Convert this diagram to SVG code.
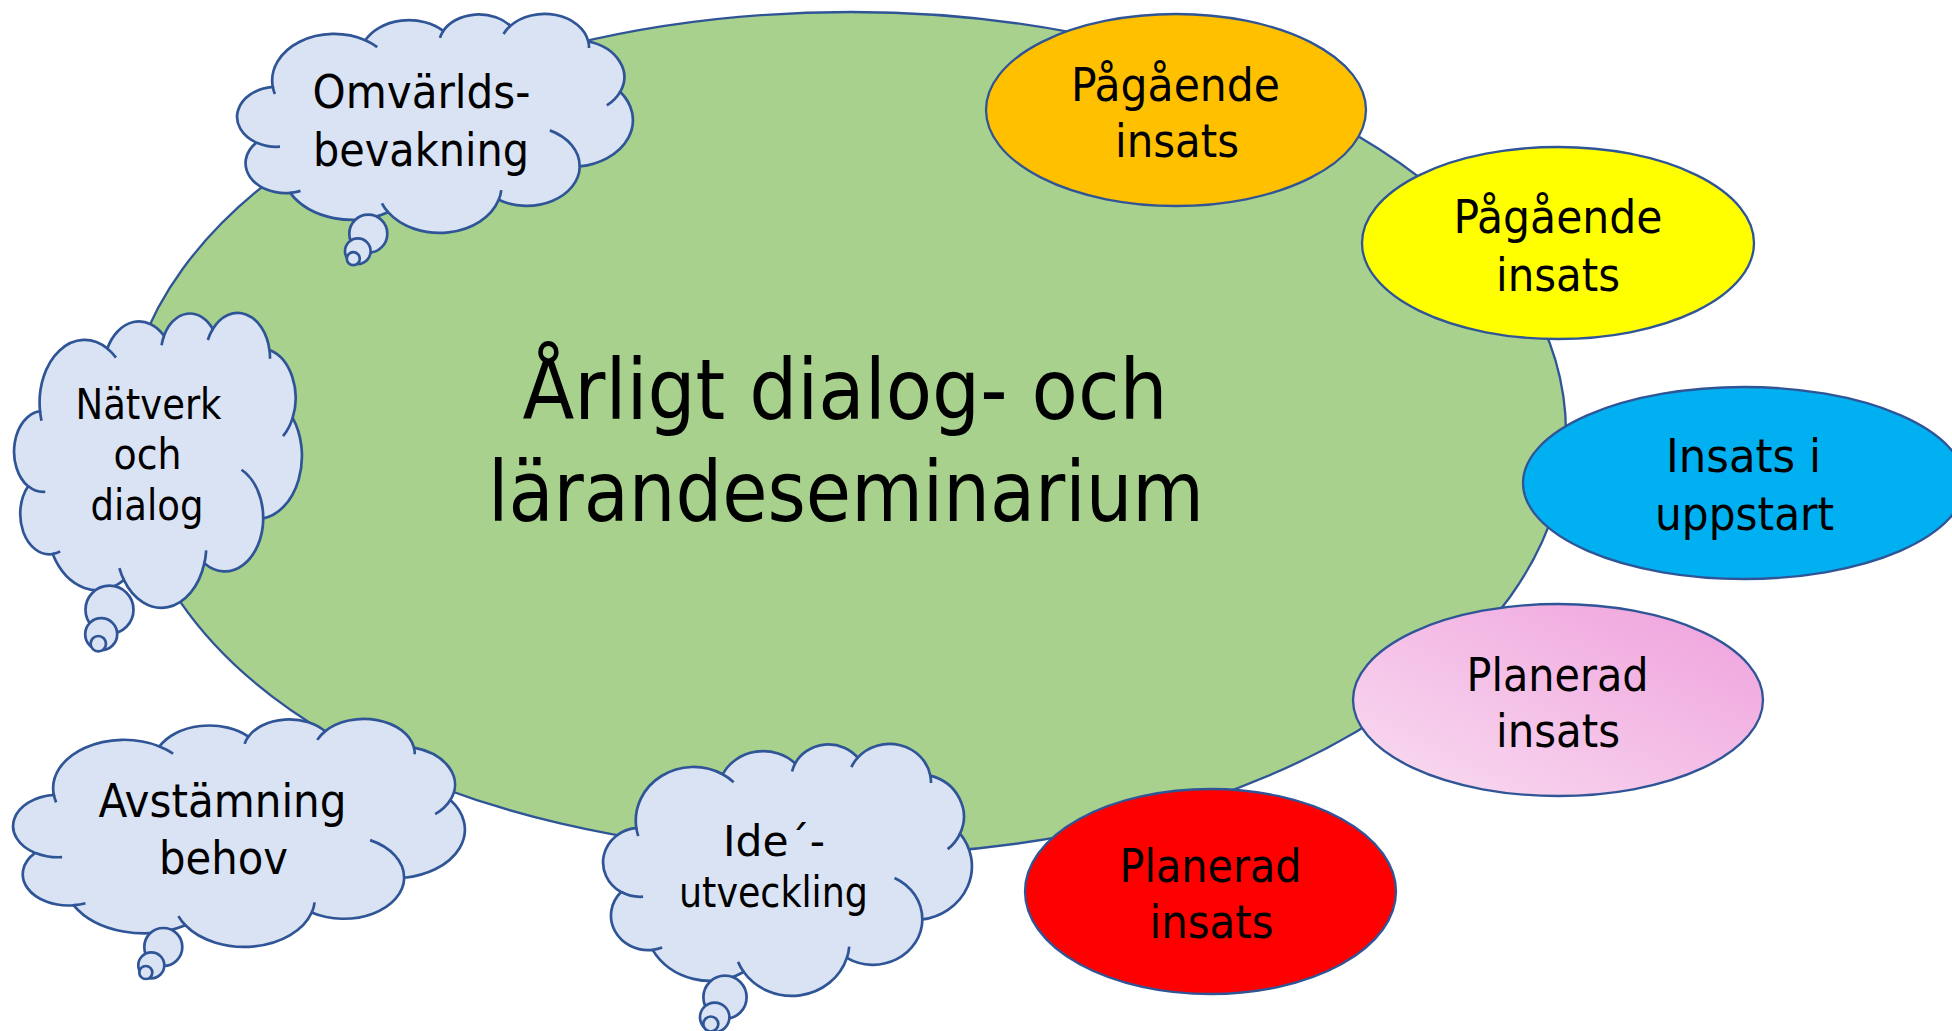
<svg xmlns="http://www.w3.org/2000/svg" xmlns:xlink="http://www.w3.org/1999/xlink" width="1952" height="1031" viewBox="0 0 1952 1031">
<defs>
<style>
.cloud{fill:#DAE3F3;stroke:#2F5597;stroke-width:2.7;vector-effect:non-scaling-stroke}
.crease{fill:none;stroke:#2F5597;stroke-width:2.7;vector-effect:non-scaling-stroke}
.node{stroke:#2F5597;stroke-width:2.3}
text{font-family:"DejaVu Sans Condensed","DejaVu Sans","Liberation Sans",sans-serif;font-stretch:condensed;fill:#000;text-anchor:middle}
</style>
<linearGradient id="pinkGrad" x1="0" y1="1" x2="1" y2="0">
<stop offset="0" stop-color="#F9DDF1"/>
<stop offset="1" stop-color="#EFA0DC"/>
</linearGradient>
</defs>
<rect width="1952" height="1031" fill="#FFFFFF"/>

<g id="seminarium">
<path class="node" fill="#A9D18E" d="M851,12 C1245.9,12 1566,200.5 1566,433 C1566,666.1 1245.9,855 851,855 C430.5,855 126,677.3 126,432 C126,200 450.6,12 851,12 Z"/>
<text font-size="84" x="845" y="419" textLength="645" lengthAdjust="spacingAndGlyphs">Årligt dialog- och</text>
<text font-size="84" x="846" y="521" textLength="716" lengthAdjust="spacingAndGlyphs">lärandeseminarium</text>
</g>

<g id="connectors"></g>

<g id="cloud-omvarld">
<path class="cloud" transform="translate(237 14) scale(0.0091667 0.0050694)" d="M3900,14370 A6753,9190 0 0 1 14000,5192 A5333,7267 0 0 1 22500,3330 A4365,5945 0 0 1 29820,2341 A4857,6595 0 0 1 38324,5426 A5333,7273 0 0 1 41798,15354 A6775,9220 0 0 1 37390,30075 A5785,7867 0 0 1 28545,36660 A6752,9215 0 0 1 16478,39090 A7720,10543 0 0 1 5802,35296 A4360,5918 0 0 1 2111,25374 A4345,5945 0 0 1 3900,14370 Z"/>
<circle class="cloud" cx="368.3" cy="233.7" r="19"/>
<circle class="cloud" cx="357.8" cy="251.2" r="12.8"/>
<circle class="cloud" cx="353.3" cy="258.7" r="6.5"/>
<path class="crease" transform="translate(237 14) scale(0.0091667 0.0050694)" d="M4693,26177 A4345,5945 0 0 1 2160,25380 M6928,34899 A4360,5918 0 0 1 5820,35281 M16478,39090 A6752,9215 0 0 1 15810,37350 M28827,34751 A6752,9215 0 0 1 28560,36660 M34129,22954 A5785,7867 0 0 1 37380,30090 M41798,15354 A5333,7273 0 0 1 40350,18030 M38324,5426 A4857,6595 0 0 1 38400,6690 M29078,3952 A4857,6595 0 0 1 29820,2341 M22141,4720 A4365,5945 0 0 1 22500,3330 M14000,5192 A6753,9190 0 0 1 15299,6539 M4127,15789 A6753,9190 0 0 1 3900,14370"/>
<text font-size="46" x="421.5" y="108" textLength="218" lengthAdjust="spacingAndGlyphs">Omvärlds-</text>
<text font-size="46" x="421" y="166" textLength="216" lengthAdjust="spacingAndGlyphs">bevakning</text>
</g>

<g id="cloud-natverk">
<path class="cloud" transform="translate(14 313) scale(0.0066667 0.0068287)" d="M3900,14370 A6753,9190 0 0 1 14000,5192 A5333,7267 0 0 1 22500,3330 A4365,5945 0 0 1 29820,2341 A4857,6595 0 0 1 38324,5426 A5333,7273 0 0 1 41798,15354 A6775,9220 0 0 1 37390,30075 A5785,7867 0 0 1 28545,36660 A6752,9215 0 0 1 16478,39090 A7720,10543 0 0 1 5802,35296 A4360,5918 0 0 1 2111,25374 A4345,5945 0 0 1 3900,14370 Z"/>
<circle class="cloud" cx="109.5" cy="609.7" r="24"/>
<circle class="cloud" cx="101.2" cy="634.2" r="16"/>
<circle class="cloud" cx="98.3" cy="643.7" r="7.7"/>
<path class="crease" transform="translate(14 313) scale(0.0066667 0.0068287)" d="M4693,26177 A4345,5945 0 0 1 2160,25380 M6928,34899 A4360,5918 0 0 1 5820,35281 M16478,39090 A6752,9215 0 0 1 15810,37350 M28827,34751 A6752,9215 0 0 1 28560,36660 M34129,22954 A5785,7867 0 0 1 37380,30090 M41798,15354 A5333,7273 0 0 1 40350,18030 M38324,5426 A4857,6595 0 0 1 38400,6690 M29078,3952 A4857,6595 0 0 1 29820,2341 M22141,4720 A4365,5945 0 0 1 22500,3330 M14000,5192 A6753,9190 0 0 1 15299,6539 M4127,15789 A6753,9190 0 0 1 3900,14370"/>
<text font-size="42" x="148.5" y="419" textLength="146" lengthAdjust="spacingAndGlyphs">Nätverk</text>
<text font-size="42" x="147.5" y="469" textLength="68" lengthAdjust="spacingAndGlyphs">och</text>
<text font-size="42" x="147" y="520" textLength="113" lengthAdjust="spacingAndGlyphs">dialog</text>
</g>

<g id="cloud-avstamning">
<path class="cloud" transform="translate(13 719) scale(0.010463 0.0052778)" d="M3900,14370 A6753,9190 0 0 1 14000,5192 A5333,7267 0 0 1 22500,3330 A4365,5945 0 0 1 29820,2341 A4857,6595 0 0 1 38324,5426 A5333,7273 0 0 1 41798,15354 A6775,9220 0 0 1 37390,30075 A5785,7867 0 0 1 28545,36660 A6752,9215 0 0 1 16478,39090 A7720,10543 0 0 1 5802,35296 A4360,5918 0 0 1 2111,25374 A4345,5945 0 0 1 3900,14370 Z"/>
<circle class="cloud" cx="163.3" cy="947" r="19"/>
<circle class="cloud" cx="151.3" cy="965.3" r="13"/>
<circle class="cloud" cx="145.8" cy="972.5" r="6.5"/>
<path class="crease" transform="translate(13 719) scale(0.010463 0.0052778)" d="M4693,26177 A4345,5945 0 0 1 2160,25380 M6928,34899 A4360,5918 0 0 1 5820,35281 M16478,39090 A6752,9215 0 0 1 15810,37350 M28827,34751 A6752,9215 0 0 1 28560,36660 M34129,22954 A5785,7867 0 0 1 37380,30090 M41798,15354 A5333,7273 0 0 1 40350,18030 M38324,5426 A4857,6595 0 0 1 38400,6690 M29078,3952 A4857,6595 0 0 1 29820,2341 M22141,4720 A4365,5945 0 0 1 22500,3330 M14000,5192 A6753,9190 0 0 1 15299,6539 M4127,15789 A6753,9190 0 0 1 3900,14370"/>
<text font-size="47" x="222.5" y="817" textLength="248" lengthAdjust="spacingAndGlyphs">Avstämning</text>
<text font-size="47" x="223.5" y="874" textLength="129" lengthAdjust="spacingAndGlyphs">behov</text>
</g>

<g id="cloud-ide">
<path class="cloud" transform="translate(603 744) scale(0.0085417 0.0058333)" d="M3900,14370 A6753,9190 0 0 1 14000,5192 A5333,7267 0 0 1 22500,3330 A4365,5945 0 0 1 29820,2341 A4857,6595 0 0 1 38324,5426 A5333,7273 0 0 1 41798,15354 A6775,9220 0 0 1 37390,30075 A5785,7867 0 0 1 28545,36660 A6752,9215 0 0 1 16478,39090 A7720,10543 0 0 1 5802,35296 A4360,5918 0 0 1 2111,25374 A4345,5945 0 0 1 3900,14370 Z"/>
<circle class="cloud" cx="725" cy="997.2" r="21.6"/>
<circle class="cloud" cx="714.7" cy="1017.3" r="14.7"/>
<circle class="cloud" cx="710.8" cy="1024" r="7.5"/>
<path class="crease" transform="translate(603 744) scale(0.0085417 0.0058333)" d="M4693,26177 A4345,5945 0 0 1 2160,25380 M6928,34899 A4360,5918 0 0 1 5820,35281 M16478,39090 A6752,9215 0 0 1 15810,37350 M28827,34751 A6752,9215 0 0 1 28560,36660 M34129,22954 A5785,7867 0 0 1 37380,30090 M41798,15354 A5333,7273 0 0 1 40350,18030 M38324,5426 A4857,6595 0 0 1 38400,6690 M29078,3952 A4857,6595 0 0 1 29820,2341 M22141,4720 A4365,5945 0 0 1 22500,3330 M14000,5192 A6753,9190 0 0 1 15299,6539 M4127,15789 A6753,9190 0 0 1 3900,14370"/>
<text font-size="42" x="774" y="856" textLength="102" lengthAdjust="spacingAndGlyphs">Ide´-</text>
<text font-size="42" x="773.5" y="907" textLength="189" lengthAdjust="spacingAndGlyphs">utveckling</text>
</g>

<g id="pagaende-orange">
<ellipse class="node" fill="#FFC000" cx="1176" cy="110" rx="190" ry="96"/>
<text font-size="47" x="1175.5" y="101" textLength="209" lengthAdjust="spacingAndGlyphs">Pågående</text>
<text font-size="47" x="1177" y="157" textLength="124" lengthAdjust="spacingAndGlyphs">insats</text>
</g>

<g id="pagaende-gul">
<ellipse class="node" fill="#FFFF00" cx="1558" cy="243" rx="196" ry="96"/>
<text font-size="47" x="1558" y="233" textLength="209" lengthAdjust="spacingAndGlyphs">Pågående</text>
<text font-size="47" x="1558" y="291" textLength="124" lengthAdjust="spacingAndGlyphs">insats</text>
</g>

<g id="insats-uppstart">
<ellipse class="node" fill="#00B0F0" cx="1744" cy="483" rx="221" ry="96"/>
<text font-size="47" x="1743.5" y="472" textLength="155" lengthAdjust="spacingAndGlyphs">Insats i</text>
<text font-size="47" x="1744.5" y="530" textLength="179" lengthAdjust="spacingAndGlyphs">uppstart</text>
</g>

<g id="planerad-rosa">
<ellipse class="node" fill="url(#pinkGrad)" cx="1558" cy="700" rx="205" ry="96"/>
<text font-size="47" x="1557.5" y="691" textLength="182" lengthAdjust="spacingAndGlyphs">Planerad</text>
<text font-size="47" x="1558" y="747" textLength="124" lengthAdjust="spacingAndGlyphs">insats</text>
</g>

<g id="planerad-rod">
<ellipse class="node" fill="#FF0000" cx="1210.5" cy="891.5" rx="185.5" ry="102.5"/>
<text font-size="47" x="1210.5" y="882" textLength="182" lengthAdjust="spacingAndGlyphs">Planerad</text>
<text font-size="47" x="1211.5" y="938" textLength="124" lengthAdjust="spacingAndGlyphs">insats</text>
</g>
</svg>
